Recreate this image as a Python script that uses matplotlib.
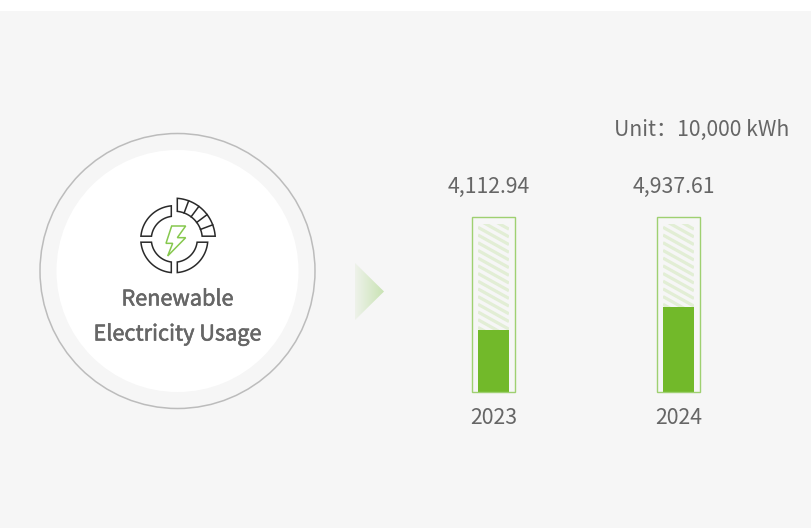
import numpy as np
import matplotlib
matplotlib.use("Agg")
from matplotlib import pyplot as plt
from matplotlib import patheffects
from matplotlib.patches import Circle, Polygon, Rectangle

years = ["2023", "2024"]
usage = [4112.94, 4937.61]
usage_labels = ["4,112.94", "4,937.61"]
unit_text = "Unit：10,000 kWh"
title_lines = ["Renewable", "Electricity Usage"]

GREEN = "#72b92a"
OUTLINE = "#9fd071"
STRIPE = "#e2eed5"
GREY = "#666666"
BG = "#f6f6f6"
ICON = "#2a2a2a"


def sector(cx, cy, r0, r1, a0, a1):
    # ring piece in pixel space, angles in degrees, y axis points down
    t0 = np.radians(np.linspace(a0[0], a1[0], 30))
    t1 = np.radians(np.linspace(a1[1], a0[1], 30))
    xs = np.r_[cx + r1 * np.cos(t0), cx + r0 * np.cos(t1)]
    ys = np.r_[cy - r1 * np.sin(t0), cy - r0 * np.sin(t1)]
    return np.c_[xs, ys]


def gap_angle(gap, r):
    return np.degrees(np.arcsin(gap / r))


plt.rcParams["font.family"] = ["Noto Sans CJK SC", "DejaVu Sans"]

fig = plt.figure(figsize=(8.11, 5.28), dpi=100)
fig.patch.set_facecolor("white")

# Whole figure axes in pixels, for the decoration.
ax = fig.add_axes([0, 0, 1, 1])
ax.set_xlim(0, 811)
ax.set_ylim(528, 0)
ax.axis("off")
ax.add_patch(Rectangle((0, 11), 811, 517, fc=BG, ec="none", zorder=0))

ax.add_patch(Circle((177.5, 271), 137.5, fc="none", ec="#bcbcbc", lw=1.1, zorder=1))
ax.add_patch(Circle((177.5, 271), 121, fc="white", ec="none", zorder=1))

# Icon.
cx, cy = 174.3, 239.2
r0, r1 = 23, 33.5
g = 3
pieces = [
    ((90 + gap_angle(g, r1), 90 + gap_angle(g, r0)), (180 - gap_angle(g, r1), 180 - gap_angle(g, r0))),
    ((180 + gap_angle(g, r1), 180 + gap_angle(g, r0)), (270 - gap_angle(g, r1), 270 - gap_angle(g, r0))),
    ((270 + gap_angle(g, r1), 270 + gap_angle(g, r0)), (360 - gap_angle(g, r1), 360 - gap_angle(g, r0))),
]
for a0, a1 in pieces:
    ax.add_patch(Polygon(sector(cx, cy, r0, r1, a0, a1), closed=True, fc="none", ec=ICON, lw=1.1, zorder=3))

r2, r3 = 28, 41
a_start = (gap_angle(g, r3), gap_angle(g, r2))
a_end = (90 - gap_angle(g, r3), 90 - gap_angle(g, r2))
ax.add_patch(Polygon(sector(cx, cy, r2, r3, a_start, a_end), closed=True, fc="none", ec=ICON, lw=1.1, zorder=3))
for a in np.linspace(a_start[0], a_end[0], 6)[1:-1]:
    t = np.radians(a)
    ax.plot([cx + r2 * np.cos(t), cx + r3 * np.cos(t)], [cy - r2 * np.sin(t), cy - r3 * np.sin(t)],
            c=ICON, lw=1.1, zorder=3)

bolt = np.array([(155, 123), (197, 123), (172, 158), (197, 158), (143, 213), (158, 175), (138, 175)], dtype=float)
bolt = bolt / 3 + [120, 185]
ax.add_patch(Polygon(bolt, closed=True, fc="none", ec="#86c84e", lw=1.1, zorder=3))

heavy = [patheffects.withStroke(linewidth=0.4, foreground=GREY)]
ax.text(177.5, 299.5, title_lines[0], ha="center", va="center", fontsize=15.6, color=GREY, path_effects=heavy)
ax.text(177.5, 334.5, title_lines[1], ha="center", va="center", fontsize=15.6, color=GREY, path_effects=heavy)

# Arrow with a left to right fade.
grad = np.linspace(0, 1, 64).reshape(1, -1)
cmap = matplotlib.colors.LinearSegmentedColormap.from_list("fade", ["#eef2ea", "#c9e3b4"])
im = ax.imshow(grad, extent=(355, 384, 320, 263), cmap=cmap, aspect="auto", zorder=2)
im.set_clip_path(Polygon([(355, 263), (384, 291.5), (355, 320)], closed=True, transform=ax.transData))
ax.set_xlim(0, 811)
ax.set_ylim(528, 0)

ax.text(701.5, 129.5, unit_text, ha="center", va="center", fontsize=15.2, color=GREY)

# Bars, pixel box of the axes is x 401-771, y 217-392.
bar_ax = fig.add_axes([401 / 811, (528 - 392) / 528, 370 / 811, 175 / 528])
bar_ax.set_xlim(-0.5, 1.5)
bar_ax.set_ylim(1890, 8165)
bar_ax.axis("off")
bar_ax.patch.set_alpha(0)

x = np.arange(len(years))
for i in x:
    # striped track
    track = Rectangle((i - 0.0838, 1890), 0.1676, 6025, fc="none", ec="none", zorder=1)
    bar_ax.add_patch(track)
    for off in np.arange(0, 9000, 276):
        line, = bar_ax.plot([i - 0.0838, i + 0.0838], [off + 620, off], c=STRIPE, lw=2.3,
                            solid_capstyle="butt", zorder=1)
        line.set_clip_path(track)
    bar_ax.bar(i, 6275, bottom=1890, width=0.2324, fc="none", ec=OUTLINE, lw=1.0, zorder=3, clip_on=False)
bar_ax.bar(x, np.array(usage) - 1890, bottom=1890, width=0.165, color=GREEN, zorder=2)

for i, lab, yr in zip(x, usage_labels, years):
    px = 493 + 185 * i
    ax.text(px - 5 + 0.5, 186.5, lab, ha="center", va="center", fontsize=15.3, color=GREY)
    ax.text(px + 0.5, 417.5, yr, ha="center", va="center", fontsize=15.3, color=GREY)

fig.savefig("out.png", dpi=100, facecolor=fig.get_facecolor())
